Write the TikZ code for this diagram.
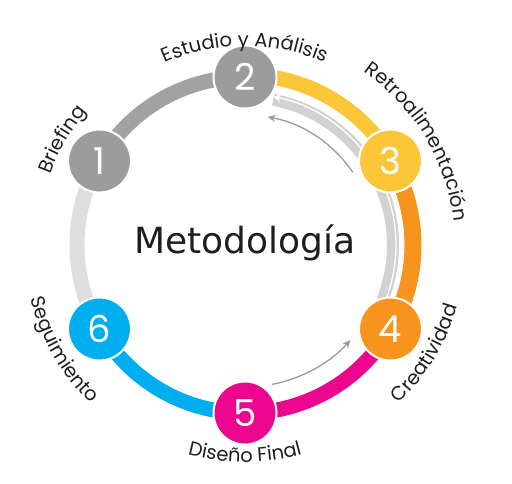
\documentclass[tikz,border=0pt]{standalone}
\usepackage{fontspec}
\setmainfont{Poppins}
\newfontfamily\centerfont{DejaVu Sans}
\usetikzlibrary{decorations.text,arrows.meta}
\definecolor{cGrayD}{HTML}{A2A2A2}
\definecolor{cGrayL}{HTML}{DEDEDE}
\definecolor{cYel}{HTML}{FBC738}
\definecolor{cOra}{HTML}{F7941D}
\definecolor{cMag}{HTML}{EC068D}
\definecolor{cCya}{HTML}{00AEEF}
\definecolor{cNodeG}{HTML}{9C9C9C}
\definecolor{cBand}{HTML}{D2D2D2}
\definecolor{cArr}{HTML}{9A9A9A}
\definecolor{cText}{HTML}{1E1E1E}
\newcommand{\lblfont}{\color{cText}\fontsize{19.5}{19.5}\selectfont}
\begin{document}
\begin{tikzpicture}[x=1pt,y=1pt,
  ring/.style={line width=15pt},
  num/.style={circle, minimum size=63pt, inner sep=0pt, draw=white, line width=2pt,
    text=white, font=\fontsize{37}{37}\selectfont},
  thinarrow/.style={cArr, line width=1.3pt, -{Stealth[length=8pt,width=7pt]}},
  lbl/.style={decorate, decoration={text along path, text align=center, text={|\lblfont|#1}}}
]
\useasboundingbox (0,0) rectangle (512,483);
\coordinate (C) at (245,238);
% ring segments
\draw[ring, cGrayD] ([shift={(150:168)}]C) arc (150:90:168);
\draw[ring, cYel]   ([shift={(90:170)}]C) arc (90:30:170);
\draw[ring, line width=17pt, cOra] ([shift={(30:168)}]C) arc (30:-30:168);
\draw[ring, cMag]   ([shift={(-30:168)}]C) arc (-30:-90:168);
\draw[ring, cCya]   ([shift={(-90:168)}]C) arc (-90:-150:168);
\draw[ring, cGrayL] ([shift={(-150:168)}]C) arc (-150:-210:168);
% inner feedback band
\draw[cBand, line width=12pt] ([shift={(-22:148)}]C) arc (-22:79:148);
\draw[white, line width=1.3pt, -{Stealth[length=7pt,width=8pt]}] ([shift={(-22:151)}]C) arc (-22:79:151);
% thin arrows
\draw[thinarrow] ([shift={(34:130)}]C) arc (34:80:130);
\draw[thinarrow] ([shift={(-79:142)}]C) arc (-79:-42:142);
% nodes
\node[num, fill=cNodeG] (n1) at ([shift={(150:168)}]C) {1};
\node[num, fill=cNodeG] (n2) at ([shift={(90:168)}]C) {2};
\node[num, fill=cYel]   (n3) at ([shift={(30:168)}]C) {3};
\node[num, fill=cOra]   (n4) at ([shift={(-30:168)}]C) {4};
\node[num, fill=cMag]   (n5) at ([shift={(-90:168)}]C) {5};
\node[num, fill=cCya]   (n6) at ([shift={(-150:168)}]C) {6};
% title
\node[font=\centerfont\fontsize{36}{36}\selectfont, text=cText] (title) at (245,240) {Metodología};
% labels
\path[lbl={Estudio y Análisis}] ([shift={(140:199)}]C) arc (140:40:199);
\path[lbl={Retroalimentación}] ([shift={(90:210)}]C) arc (90:-28:210);
\path[lbl={Briefing}] ([shift={(190:207)}]C) arc (190:110:207);
\path[lbl={Creatividad}] ([shift={(-85:221)}]C) arc (-85:23:221);
\path[lbl={Diseño Final}] ([shift={(-140:217)}]C) arc (-140:-40:217);
\path[lbl={Seguimiento}] ([shift={(155:221)}]C) arc (155:265:221);
\end{tikzpicture}
\end{document}
